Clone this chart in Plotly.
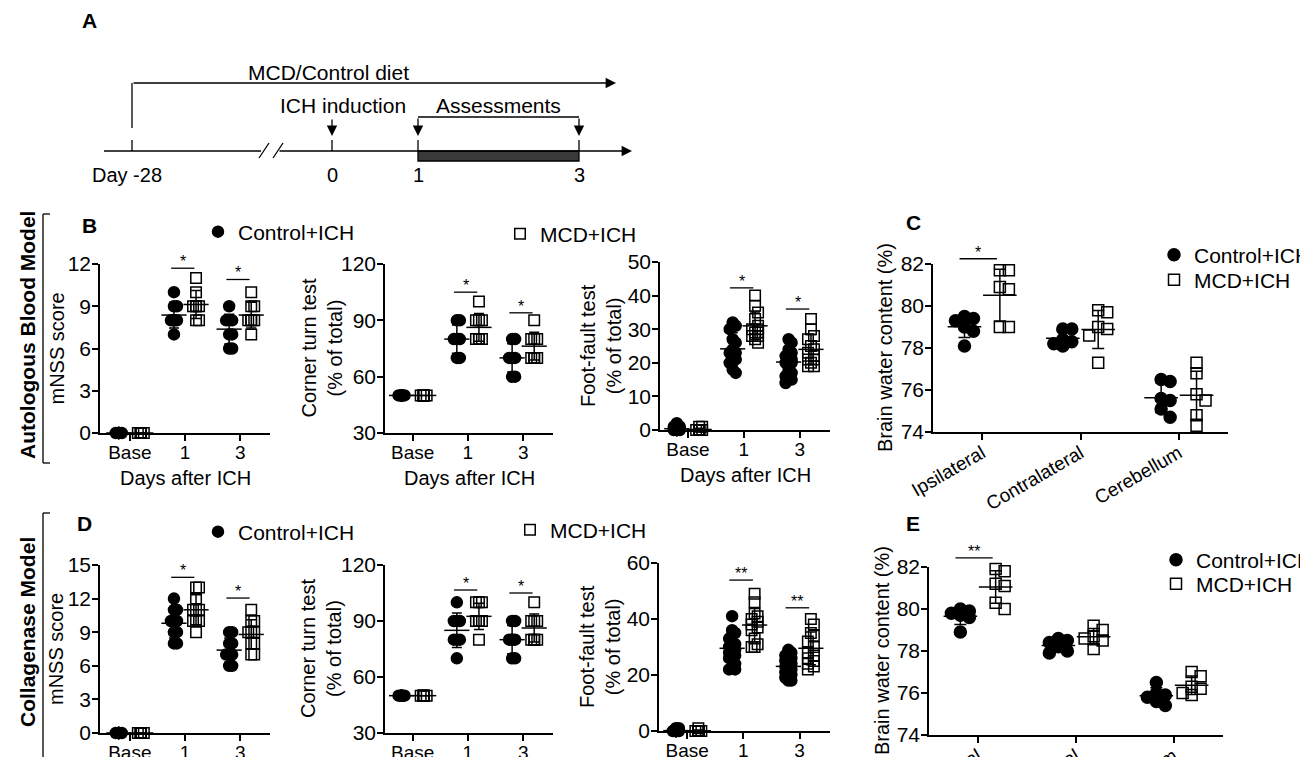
import numpy as np
import plotly.graph_objects as go

W, H = 1300, 757
FONT = "Liberation Sans, Arial, sans-serif"

# ---------------- data ----------------
days = ["Base", "1", "3"]
regions = ["Ipsilateral", "Contralateral", "Cerebellum"]
group_names = ["Control+ICH", "MCD+ICH"]

# B: autologous blood model
b_mnss_control = [[0, 0, 0, 0, 0, 0, 0, 0], [10, 9, 9, 8, 8, 8, 8, 7], [9, 8, 8, 8, 7, 7, 6, 6]]
b_mnss_mcd = [[0, 0, 0, 0, 0, 0, 0, 0], [11, 10, 9, 9, 9, 9, 8, 8], [10, 9, 9, 8, 8, 8, 8, 7]]
b_mnss_sig = [11.7, 10.9]
b_corner_control = [[50] * 8, [90, 90, 80, 80, 80, 80, 70, 70], [80, 80, 70, 70, 70, 70, 60, 60]]
b_corner_mcd = [[50] * 8, [100, 90, 90, 90, 80, 80, 80, 80], [90, 80, 80, 80, 70, 70, 70, 70]]
b_corner_sig = [105, 94]
b_foot_control = [[0, 0, 0, 1, 0, 2, 1, 0, 0, 0, 1, 0, 0],
                  [32, 31, 30, 27, 26, 24, 23, 23, 22, 21, 20, 18, 17],
                  [27, 26, 24, 23, 22, 21, 20, 20, 18, 17, 16, 15, 14]]
b_foot_mcd = [[0, 0, 0, 0, 1, 0, 0, 1, 0, 0, 0, 0, 0],
              [40, 37, 35, 33, 31, 30, 30, 29, 29, 28, 28, 27, 26],
              [33, 30, 28, 27, 25, 24, 23, 22, 21, 21, 20, 19, 19]]
b_foot_sig = [42.3, 36.0]

# C: brain water content, autologous blood model
c_water_control = [[79.5, 79.3, 79.4, 79.0, 78.8, 78.1],
                   [78.9, 78.9, 78.4, 78.3, 78.1, 78.2],
                   [76.4, 76.5, 75.6, 75.5, 75.1, 74.7]]
c_water_mcd = [[81.7, 81.7, 80.9, 80.8, 79.0, 79.0],
               [79.7, 79.8, 78.9, 79.0, 78.6, 77.3],
               [76.8, 77.3, 75.8, 75.5, 74.8, 74.3]]
c_water_sig = [82.25]

# D: collagenase model
d_mnss_control = [[0] * 10, [12, 11, 11, 10, 10, 10, 9, 9, 8, 8], [9, 9, 8, 8, 7, 7, 7, 7, 6, 6]]
d_mnss_mcd = [[0] * 10, [13, 13, 12, 11, 11, 11, 10, 10, 10, 9], [11, 10, 10, 9, 9, 9, 8, 8, 7, 7]]
d_mnss_sig = [13.9, 12.05]
d_corner_control = [[50] * 8, [100, 90, 90, 90, 80, 80, 80, 70], [90, 90, 80, 80, 80, 80, 70, 70]]
d_corner_mcd = [[50] * 8, [100, 100, 100, 90, 90, 90, 90, 80], [100, 90, 90, 90, 80, 80, 80, 80]]
d_corner_sig = [106.6, 105.0]
d_foot_control = [[0, 0, 0, 1, 0, 0, 0, 1, 0, 0, 0, 0, 0],
                  [41, 36, 35, 33, 31, 30, 29, 28, 27, 26, 24, 22, 22],
                  [29, 28, 27, 26, 25, 24, 23, 22, 21, 20, 19, 18, 18]]
d_foot_mcd = [[0, 0, 0, 0, 0, 1, 0, 0, 0, 0, 0, 0, 0],
              [49, 46, 42, 41, 40, 39, 38, 37, 36, 33, 31, 30, 30],
              [40, 38, 35, 34, 32, 30, 28, 27, 26, 25, 24, 23, 22]]
d_foot_sig = [53.9, 44.0]

# E: brain water content, collagenase model
e_water_control = [[80.0, 79.9, 79.8, 79.7, 79.6, 78.9],
                   [78.6, 78.5, 78.4, 78.2, 78.0, 77.9],
                   [76.5, 76.0, 75.9, 75.8, 75.6, 75.4]]
e_water_mcd = [[81.8, 81.9, 81.2, 81.1, 80.3, 80.0],
               [79.0, 79.2, 78.7, 78.6, 78.5, 78.1],
               [77.0, 76.8, 76.3, 76.2, 76.0, 75.9]]
e_water_sig = [82.43]

sig_one_star = ["*", "*"]
sig_two_star = ["**", "**"]

# timeline (panel A)
timeline_labels = ["Day -28", "0", "1", "3"]
timeline_texts = ["MCD/Control diet", "ICH induction", "Assessments"]

# ---------------- layout helpers ----------------
def fx(px):
    return px / W


def fy(py):
    return 1 - py / H


def swarm_offsets(vals, ppu_y, diam, step, max_off):
    vals = np.asarray(vals, float)
    order = np.argsort(-vals, kind="stable")
    cands = [0.0]
    k = 1
    while k * step <= max_off + 1e-9:
        cands += [k * step, -k * step]
        k += 1
    placed = []
    offs = np.zeros(len(vals))
    for i in order:
        yy = vals[i] * ppu_y
        chosen, best, bestd = None, 0.0, -1.0
        for c in cands:
            d = min((np.hypot(c - a, yy - b) for a, b in placed), default=1e9)
            if d >= diam:
                chosen = c
                break
            if d > bestd:
                bestd, best = d, c
        if chosen is None:
            chosen = best
        offs[i] = chosen
        placed.append((chosen, yy))
    return offs


behav = dict(xr=[-0.54, 2.54], cats=days, goff=0.2, msize=11, ssize=10.5, meanw=18, capw=5,
             swarm=(7, 3, 4.5), tickangle=0, xtitle="Days after ICH")
water = dict(xr=[-0.5, 2.5], cats=regions, goff=0.18, msize=12, ssize=11, meanw=24, capw=6,
             swarm=(10, 4.5, 9), tickangle=-30, xtitle="")

panels = [
    dict(behav, ctrl=b_mnss_control, mcd=b_mnss_mcd, box=(100, 270, 264, 433), yr=[0, 12], dtick=3,
         ytitle="mNSS score", ytx=56, sig_cat=[1, 2], sig_y=b_mnss_sig, sig_t=sig_one_star,
         leg=("legend", "legend2")),
    dict(behav, ctrl=b_corner_control, mcd=b_corner_mcd, box=(385, 553, 264, 433), yr=[30, 120], dtick=30,
         xr=[-0.5, 2.54], ytitle="Corner turn test<br>(% of total)", ytx=321, sig_cat=[1, 2],
         sig_y=b_corner_sig, sig_t=sig_one_star),
    dict(behav, ctrl=b_foot_control, mcd=b_foot_mcd, box=(660, 830, 262, 430), yr=[0, 50], dtick=10,
         xr=[-0.5, 2.54], ytitle="Foot-fault test<br>(% of total)", ytx=601, sig_cat=[1, 2],
         sig_y=b_foot_sig, sig_t=sig_one_star),
    dict(water, ctrl=c_water_control, mcd=c_water_mcd, box=(933, 1228, 264, 432), yr=[74, 82], dtick=2,
         ytitle="Brain water content (%)", ytx=885, sig_cat=[0], sig_y=c_water_sig, sig_t=["*"],
         leg=("legend3", "legend7")),
    dict(behav, ctrl=d_mnss_control, mcd=d_mnss_mcd, box=(100, 270, 565, 733), yr=[0, 15], dtick=3, xtitle="",
         ytitle="mNSS score", ytx=56, sig_cat=[1, 2], sig_y=d_mnss_sig, sig_t=sig_one_star,
         leg=("legend4", "legend5")),
    dict(behav, ctrl=d_corner_control, mcd=d_corner_mcd, box=(385, 553, 565, 733), yr=[30, 120], dtick=30,
         xr=[-0.5, 2.54], xtitle="", ytitle="Corner turn test<br>(% of total)", ytx=321, sig_cat=[1, 2],
         sig_y=d_corner_sig, sig_t=sig_one_star),
    dict(behav, ctrl=d_foot_control, mcd=d_foot_mcd, box=(659, 830, 563, 731), yr=[0, 60], dtick=20,
         xr=[-0.5, 2.54], xtitle="", ytitle="Foot-fault test<br>(% of total)", ytx=600, sig_cat=[1, 2],
         sig_y=d_foot_sig, sig_t=sig_two_star),
    dict(water, ctrl=e_water_control, mcd=e_water_mcd, box=(929, 1223, 567, 735), yr=[74, 82], dtick=2,
         ytitle="Brain water content (%)", ytx=882, sig_cat=[0], sig_y=e_water_sig, sig_t=["**"],
         leg=("legend6", "legend8")),
]

fig = go.Figure()
layout = dict(width=W, height=H, margin=dict(l=0, r=0, t=0, b=0, autoexpand=False), paper_bgcolor="white",
              plot_bgcolor="rgba(0,0,0,0)", font=dict(family=FONT, color="black", size=20),
              template=go.layout.Template(), hovermode=False)
shapes, annotations = [], []
axis_common = dict(showline=True, linecolor="black", linewidth=1.5, ticks="outside", ticklen=6,
                   tickwidth=1.5, tickcolor="black", showgrid=False, zeroline=False, automargin=False,
                   fixedrange=True)

for k, p in enumerate(panels, start=1):
    xa = "x" if k == 1 else f"x{k}"
    ya = "y" if k == 1 else f"y{k}"
    x0, x1, y0, y1 = p["box"]
    ppu_x = (x1 - x0) / (p["xr"][1] - p["xr"][0])
    ppu_y = (y1 - y0) / (p["yr"][1] - p["yr"][0])
    diam, step, maxo = p["swarm"]
    groups = [(p["ctrl"], -p["goff"], "circle", p["msize"], 0),
              (p["mcd"], p["goff"], "square-open", p["ssize"], 1)]
    for data, off, sym, size, gi in groups:
        xs, ys, mx, means, sds = [], [], [], [], []
        for ci, vals in enumerate(data):
            o = swarm_offsets(vals, ppu_y, diam, step, maxo)
            xs += list(ci + off + o / ppu_x)
            ys += list(vals)
            mx.append(ci + off)
            means.append(float(np.mean(vals)))
            sds.append(float(np.std(vals, ddof=1)))
        leg = p.get("leg")
        tr = dict(x=xs, y=ys, mode="markers", xaxis=xa, yaxis=ya, name=group_names[gi], cliponaxis=False,
                  marker=dict(symbol=sym, size=size, color="black", line=dict(width=1.5, color="black")),
                  showlegend=leg is not None)
        if leg is not None:
            tr["legend"] = leg[gi]
        fig.add_trace(go.Scatter(**tr))
        fig.add_trace(go.Scatter(x=mx, y=means, mode="markers", xaxis=xa, yaxis=ya, showlegend=False,
                                 cliponaxis=False,
                                 marker=dict(symbol="line-ew-open", size=p["meanw"], color="black",
                                             line=dict(width=1.5, color="black")),
                                 error_y=dict(type="data", array=sds, color="black", thickness=1.5,
                                              width=p["capw"])))
    # significance bars
    for c, v, t in zip(p["sig_cat"], p["sig_y"], p["sig_t"]):
        xa0 = (c - p["goff"] - 0.05 - p["xr"][0]) / (p["xr"][1] - p["xr"][0])
        xa1 = (c + p["goff"] - 0.03 - p["xr"][0]) / (p["xr"][1] - p["xr"][0])
        yv = (v - p["yr"][0]) / (p["yr"][1] - p["yr"][0])
        shapes.append(dict(type="line", xref=f"{xa} domain", yref=f"{ya} domain", x0=xa0, x1=xa1,
                           y0=yv, y1=yv, line=dict(color="black", width=1.3)))
        annotations.append(dict(text=t, xref=f"{xa} domain", yref=f"{ya} domain", x=(xa0 + xa1) / 2,
                                y=yv, yanchor="bottom", xanchor="center", showarrow=False, yshift=-4,
                                font=dict(size=16)))
    # axis titles as text beside the axes
    annotations.append(dict(text=p["ytitle"], xref="paper", yref=f"{ya} domain", x=fx(p["ytx"]), y=0.5,
                            xanchor="center", yanchor="middle", textangle=-90, showarrow=False,
                            font=dict(size=20)))
    if p["xtitle"]:
        annotations.append(dict(text=p["xtitle"], xref=f"{xa} domain", yref="paper", x=0.5, y=fy(y1 + 45),
                                xanchor="center", yanchor="middle", showarrow=False, font=dict(size=20)))
    xkey = "xaxis" if k == 1 else f"xaxis{k}"
    ykey = "yaxis" if k == 1 else f"yaxis{k}"
    layout[xkey] = dict(axis_common, domain=[fx(x0), fx(x1)], range=p["xr"], anchor=ya,
                        tickmode="array", tickvals=list(range(len(p["cats"]))), ticktext=p["cats"],
                        tickangle=p["tickangle"], tickfont=dict(size=19), ticklabelstandoff=-5)
    layout[ykey] = dict(axis_common, domain=[fy(y1), fy(y0)], range=p["yr"], anchor=xa,
                        tickmode="linear", tick0=p["yr"][0], dtick=p["dtick"], tickfont=dict(size=21),
                        ticklabelstandoff=-3)

# legends
leg_common = dict(bgcolor="rgba(0,0,0,0)", font=dict(size=21), xanchor="left", yanchor="middle",
                  itemclick=False, itemdoubleclick=False)
layout["legend"] = dict(leg_common, x=fx(198), y=fy(232))
layout["legend2"] = dict(leg_common, x=fx(500), y=fy(234))
layout["legend3"] = dict(leg_common, x=fx(1154), y=fy(255))
layout["legend7"] = dict(leg_common, x=fx(1154), y=fy(280))
layout["legend4"] = dict(leg_common, x=fx(198), y=fy(532))
layout["legend5"] = dict(leg_common, x=fx(510), y=fy(530))
layout["legend6"] = dict(leg_common, x=fx(1156), y=fy(560))
layout["legend8"] = dict(leg_common, x=fx(1156), y=fy(584))

# panel letters and model labels
for txt, px, py in [("A", 89, 20), ("B", 89, 225), ("C", 913, 223), ("D", 84, 523), ("E", 913, 523)]:
    annotations.append(dict(text=f"<b>{txt}</b>", xref="paper", yref="paper", x=fx(px), y=fy(py),
                            xanchor="center", yanchor="middle", showarrow=False, font=dict(size=21)))
for txt, py in [("Autologous Blood Model", 335), ("Collagenase Model", 632)]:
    annotations.append(dict(text=f"<b>{txt}</b>", xref="paper", yref="paper", x=fx(27), y=fy(py),
                            xanchor="center", yanchor="middle", textangle=-90, showarrow=False,
                            font=dict(size=21)))
bracket = dict(type="line", xref="paper", yref="paper", line=dict(color="black", width=1.3))
shapes += [dict(bracket, x0=fx(43), x1=fx(43), y0=fy(214), y1=fy(463)),
           dict(bracket, x0=fx(43), x1=fx(50), y0=fy(214), y1=fy(214)),
           dict(bracket, x0=fx(43), x1=fx(50), y0=fy(463), y1=fy(463)),
           dict(bracket, x0=fx(43), x1=fx(43), y0=fy(513), y1=fy(770)),
           dict(bracket, x0=fx(43), x1=fx(50), y0=fy(513), y1=fy(513))]

# timeline schematic axis (pixel-like schematic units)
layout["xaxis9"] = dict(domain=[0, 1], range=[0, W], visible=False, anchor="y9", fixedrange=True)
layout["yaxis9"] = dict(domain=[0, 1], range=[H, 0], visible=False, anchor="x9", fixedrange=True)
tl_line_y = 151
tl_pos = [132, 332, 418, 579]
tl = dict(xref="x9", yref="y9", line=dict(color="black", width=1.3))
shapes += [
    dict(tl, type="line", x0=104, x1=261, y0=tl_line_y, y1=tl_line_y),
    dict(tl, type="line", x0=259, x1=269, y0=158, y1=143),
    dict(tl, type="line", x0=273, x1=283, y0=158, y1=143),
    dict(tl, type="line", x0=tl_pos[0], x1=tl_pos[0], y0=83, y1=128),
    dict(tl, type="line", x0=tl_pos[0], x1=tl_pos[0], y0=140, y1=tl_line_y),
    dict(tl, type="line", x0=tl_pos[1], x1=tl_pos[1], y0=140, y1=tl_line_y),
    dict(tl, type="line", x0=tl_pos[2], x1=tl_pos[2], y0=140, y1=tl_line_y),
    dict(tl, type="line", x0=tl_pos[3], x1=tl_pos[3], y0=140, y1=tl_line_y),
    dict(tl, type="line", x0=tl_pos[2], x1=tl_pos[3], y0=117, y1=117),
    dict(tl, type="rect", x0=tl_pos[2], x1=tl_pos[3], y0=tl_line_y, y1=161, fillcolor="#3a3a3a"),
]
arrow = dict(xref="x9", yref="y9", axref="x9", ayref="y9", showarrow=True, arrowhead=2, arrowsize=1.6,
             arrowwidth=1.3, arrowcolor="black", text="")
annotations += [
    dict(arrow, x=632, y=tl_line_y, ax=278, ay=tl_line_y),
    dict(arrow, x=616, y=83, ax=tl_pos[0], ay=83),
    dict(arrow, x=tl_pos[1], y=136, ax=tl_pos[1], ay=118),
    dict(arrow, x=tl_pos[2], y=136, ax=tl_pos[2], ay=117),
    dict(arrow, x=tl_pos[3], y=136, ax=tl_pos[3], ay=117),
]
for txt, px in zip(timeline_labels, [127] + tl_pos[1:]):
    annotations.append(dict(text=txt, xref="x9", yref="y9", x=px, y=175, showarrow=False,
                            font=dict(size=20)))
for txt, px, py in zip(timeline_texts, [328, 343, 498], [72, 105, 105]):
    annotations.append(dict(text=txt, xref="x9", yref="y9", x=px, y=py, showarrow=False,
                            font=dict(size=21)))

layout["shapes"] = shapes
layout["annotations"] = annotations
fig.update_layout(**layout)

clip_js = (
    "document.documentElement.style.margin='0';document.documentElement.style.overflow='hidden';"
    "document.body.style.margin='0';document.body.style.overflow='hidden';"
    "document.querySelectorAll('.plotly-graph-div').forEach(function(d){d.style.overflow='hidden';});"
)
fig.write_html("out.html", config={"displayModeBar": False}, post_script=clip_js)
